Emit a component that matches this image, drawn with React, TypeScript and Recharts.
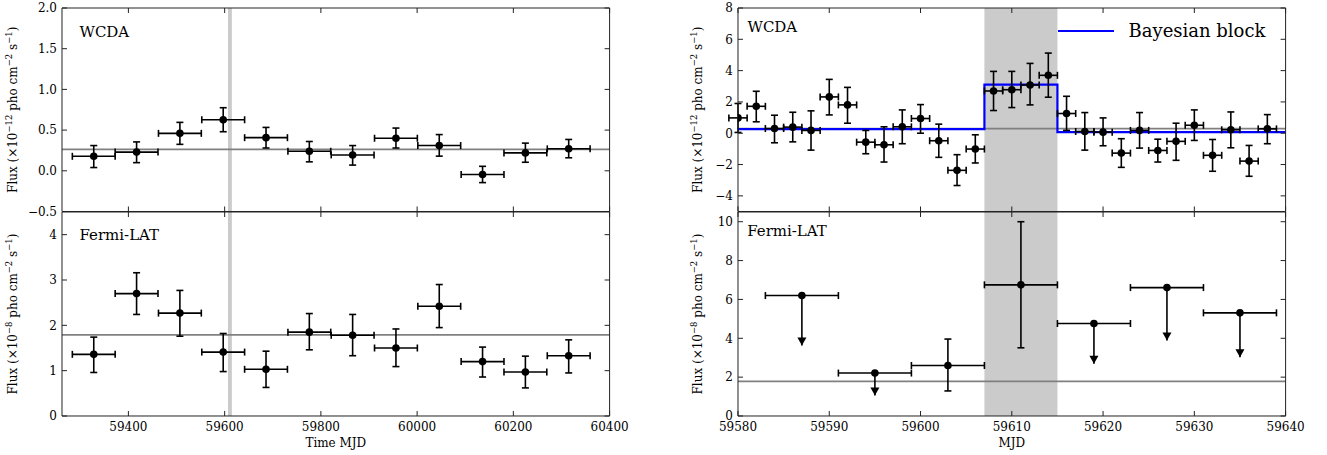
import React from "react";
import {
  ComposedChart,
  Scatter,
  ErrorBar,
  XAxis,
  YAxis,
  ReferenceArea,
  ReferenceLine,
  Line,
  Legend,
} from "recharts";

const FONT = '"DejaVu Serif", serif';
const FRAME = "#222";
const BAND = "#cbcbcb";
const HLINE = "#808080";
const BLUE = "#0000ff";
const TICK = 5;

// ---- left: long-term light curves (90 d bins) ----
const LONG_X = [59328, 59417, 59507, 59597, 59686, 59776, 59866, 59956, 60046, 60136, 60225, 60315];
const LONG_XERR = 44.5;

const LW_Y = [0.178, 0.23, 0.46, 0.627, 0.407, 0.24, 0.195, 0.4, 0.31, -0.046, 0.22, 0.27];
const LW_HI = [0.31, 0.355, 0.595, 0.775, 0.533, 0.36, 0.31, 0.525, 0.445, 0.055, 0.34, 0.385];
const LW_LO = [0.04, 0.1, 0.325, 0.48, 0.28, 0.11, 0.07, 0.28, 0.18, -0.145, 0.105, 0.16];
const LW_MEAN = 0.264;

const LF_Y = [1.36, 2.7, 2.27, 1.41, 1.03, 1.85, 1.78, 1.5, 2.42, 1.2, 0.97, 1.33];
const LF_HI = [1.74, 3.16, 2.77, 1.82, 1.43, 2.26, 2.24, 1.92, 2.9, 1.52, 1.32, 1.68];
const LF_LO = [0.96, 2.24, 1.76, 0.98, 0.63, 1.46, 1.33, 1.09, 1.95, 0.86, 0.62, 0.95];
const LF_MEAN = 1.79;

// ---- right: zoom around the flare (2 d WCDA bins, 8 d Fermi bins) ----
const RW_X = [
  59580, 59582, 59584, 59586, 59588, 59590, 59592, 59594, 59596, 59598,
  59600, 59602, 59604, 59606, 59608, 59610, 59612, 59614, 59616, 59618,
  59620, 59622, 59624, 59626, 59628, 59630, 59632, 59634, 59636, 59638,
];
const RW_XERR = 1;
const RW_Y = [
  0.98, 1.72, 0.3, 0.39, 0.18, 2.32, 1.81, -0.57, -0.74, 0.41,
  0.94, -0.48, -2.37, -1.01, 2.7, 2.78, 3.08, 3.7, 1.26, 0.11,
  0.07, -1.27, 0.18, -1.1, -0.52, 0.51, -1.41, 0.22, -1.78, 0.28,
];
const RW_HI = [
  1.9, 2.68, 1.15, 1.34, 1.43, 3.44, 2.93, 0.18, 0.41, 1.49,
  1.83, 0.58, -1.37, -0.1, 3.95, 3.95, 4.46, 5.12, 2.36, 1.32,
  0.98, -0.35, 1.32, -0.38, 0.64, 1.49, -0.4, 1.36, -0.78, 1.19,
];
const RW_LO = [
  0.05, 0.73, -0.61, -0.55, -1.08, 1.17, 0.64, -1.31, -1.84, -0.67,
  0.0, -1.54, -3.34, -1.9, 1.45, 1.64, 1.81, 2.3, 0.18, -1.08,
  -0.8, -2.18, -0.95, -1.84, -1.73, -0.46, -2.43, -0.93, -2.75, -0.67,
];
const RW_MEAN = 0.3;
const BB_EDGES = [59580, 59607, 59615, 59640];
const BB_LEVELS = [0.26, 3.1, 0.07, 0.07];

const RF_XERR = 4;
const RF_DET_X = [59603, 59611];
const RF_DET_Y = [2.6, 6.75];
const RF_DET_HI = [3.96, 10.0];
const RF_DET_LO = [1.29, 3.51];
const RF_UL_X = [59587, 59595, 59619, 59627, 59635];
const RF_UL_Y = [6.2, 2.21, 4.76, 6.61, 5.31];
const RF_UL_TIP = [3.63, 1.06, 2.69, 3.89, 3.03];
const RF_MEAN = 1.78;

const FLARE = [59607, 59615];

type Pt = { x: number; y: number; ex: number; ey: [number, number] };

const mkPts = (xs: number[], ys: number[], hi: number[], lo: number[], ex: number): Pt[] =>
  xs.map((x, i) => ({ x, y: ys[i], ex, ey: [ys[i] - lo[i], hi[i] - ys[i]] }));

const fmtMinus = (s: string) => s.replace("-", "\u2212");

const dot = (p: any) => <circle cx={p.cx} cy={p.cy} r={3.8} fill="#000" />;
const arrowHead = (p: any) => (
  <path d={`M${p.cx - 4.5},${p.cy - 8} L${p.cx + 4.5},${p.cy - 8} L${p.cx},${p.cy} Z`} fill="#000" />
);

const xTick = (dir: number, label: boolean) => (p: any) => (
  <g>
    <line x1={p.x} x2={p.x} y1={p.y} y2={p.y + dir * TICK} stroke={FRAME} strokeWidth={1} />
    {label && (
      <text x={p.x} y={p.y + 15} textAnchor="middle" fontSize={12} fontFamily={FONT} fill="#000">
        {p.payload.value}
      </text>
    )}
  </g>
);

const yTick = (dir: number, fmt?: (v: number) => string) => (p: any) => (
  <g>
    <line x1={p.x} x2={p.x + dir * TICK} y1={p.y} y2={p.y} stroke={FRAME} strokeWidth={1} />
    {fmt && (
      <text x={p.x - 5} y={p.y} dy="0.36em" textAnchor="end" fontSize={12} fontFamily={FONT} fill="#000">
        {fmt(p.payload.value)}
      </text>
    )}
  </g>
);

function FluxLabel({ exp }: { exp: string }) {
  return (
    <>
      <tspan>Flux (×10</tspan>
      <tspan dy={-5} fontSize={8.5}>{exp}</tspan>
      <tspan dy={5}> pho cm</tspan>
      <tspan dy={-5} fontSize={8.5}>−2</tspan>
      <tspan dy={5}> s</tspan>
      <tspan dy={-5} fontSize={8.5}>−1</tspan>
      <tspan dy={5}>)</tspan>
    </>
  );
}

type PanelProps = {
  left: number;
  top: number;
  w: number;
  h: number;
  xDomain: [number, number];
  xTicks: number[];
  yDomain: [number, number];
  yTicks: number[];
  yFmt: (v: number) => string;
  xLabels: boolean;
  xTitle?: string;
  exp: string;
  yTitleOff: number;
  name: string;
  nameDx: number;
  nameDy: number;
  pts: Pt[];
  uls?: Pt[];
  tips?: { x: number; y: number }[];
  hline: number;
  blocks?: { x: number; y: number }[];
};

function Panel(p: PanelProps) {
  const padL = 60, padT = 10, padB = 50, padR = 40;
  return (
    <div style={{ position: "absolute", left: p.left - padL, top: p.top - padT }}>
      <ComposedChart
        width={p.w + padL + padR}
        height={p.h + padT + padB}
        margin={{ top: 0, right: 0, bottom: 0, left: 0 }}
      >
        <XAxis
          dataKey="x"
          type="number"
          domain={p.xDomain}
          ticks={p.xTicks}
          allowDataOverflow
          interval={0}
          height={padB}
          tickSize={0}
          tickMargin={0}
          tickLine={false}
          axisLine={{ stroke: FRAME, strokeWidth: 1 }}
          tick={xTick(-1, p.xLabels)}
          label={{
            content: (lp: any) =>
              p.xTitle ? (
                <text
                  x={lp.viewBox.x + lp.viewBox.width / 2}
                  y={lp.viewBox.y + 31}
                  textAnchor="middle"
                  fontSize={12}
                  fontFamily={FONT}
                  fill="#000"
                >
                  {p.xTitle}
                </text>
              ) : null,
          }}
        />
        <XAxis
          xAxisId="top"
          orientation="top"
          dataKey="x"
          type="number"
          domain={p.xDomain}
          ticks={p.xTicks}
          allowDataOverflow
          interval={0}
          height={padT}
          tickSize={0}
          tickMargin={0}
          tickLine={false}
          axisLine={{ stroke: FRAME, strokeWidth: 1 }}
          tick={xTick(1, false)}
          label={{
            content: (lp: any) => (
              <text
                x={lp.viewBox.x + p.nameDx}
                y={lp.viewBox.y + lp.viewBox.height + p.nameDy}
                fontSize={15}
                fontFamily={FONT}
                fill="#000"
              >
                {p.name}
              </text>
            ),
          }}
        />
        <YAxis
          type="number"
          domain={p.yDomain}
          ticks={p.yTicks}
          allowDataOverflow
          interval={0}
          width={padL}
          tickSize={0}
          tickMargin={0}
          tickLine={false}
          axisLine={{ stroke: FRAME, strokeWidth: 1 }}
          tick={yTick(1, p.yFmt)}
          label={{
            content: (lp: any) => {
              const cx = lp.viewBox.x + lp.viewBox.width - p.yTitleOff;
              const cy = lp.viewBox.y + lp.viewBox.height / 2;
              return (
                <text
                  x={cx}
                  y={cy}
                  transform={`rotate(-90 ${cx} ${cy})`}
                  textAnchor="middle"
                  fontSize={12}
                  fontFamily={FONT}
                  fill="#000"
                >
                  <FluxLabel exp={p.exp} />
                </text>
              );
            },
          }}
        />
        <YAxis
          yAxisId="right"
          orientation="right"
          type="number"
          domain={p.yDomain}
          ticks={p.yTicks}
          allowDataOverflow
          interval={0}
          width={padR}
          tickSize={0}
          tickMargin={0}
          tickLine={false}
          axisLine={{ stroke: FRAME, strokeWidth: 1 }}
          tick={yTick(-1)}
        />
        <ReferenceArea x1={FLARE[0]} x2={FLARE[1]} fill={BAND} fillOpacity={1} stroke="none" />
        <ReferenceLine y={p.hline} stroke={HLINE} strokeWidth={1.8} />
        {p.blocks && (
          <Line
            data={p.blocks}
            dataKey="y"
            type="stepAfter"
            stroke={BLUE}
            strokeWidth={2.2}
            dot={false}
            name="Bayesian block"
            isAnimationActive={false}
          />
        )}
        {p.blocks && (
          <Legend
            layout="horizontal"
            verticalAlign="middle"
            align="center"
            wrapperStyle={{ top: 22, left: 380, width: "auto", height: "auto" }}
            content={() => (
              <div style={{ display: "flex", alignItems: "center", fontFamily: FONT }}>
                <svg width={56} height={4}>
                  <line x1={0} x2={56} y1={2} y2={2} stroke={BLUE} strokeWidth={2.2} />
                </svg>
                <span style={{ marginLeft: 15, fontSize: 18, lineHeight: "22px", color: "#000" }}>
                  Bayesian block
                </span>
              </div>
            )}
          />
        )}
        <Scatter data={p.pts} dataKey="y" shape={dot} isAnimationActive={false} legendType="none">
          <ErrorBar dataKey="ex" direction="x" width={3.5} stroke="#000" strokeWidth={1.6} isAnimationActive={false} />
          <ErrorBar dataKey="ey" direction="y" width={3.5} stroke="#000" strokeWidth={1.6} isAnimationActive={false} />
        </Scatter>
        {p.uls && (
          <Scatter data={p.uls} dataKey="y" shape={dot} isAnimationActive={false} legendType="none">
            <ErrorBar dataKey="ex" direction="x" width={3.5} stroke="#000" strokeWidth={1.6} isAnimationActive={false} />
            <ErrorBar dataKey="ey" direction="y" width={0} stroke="#000" strokeWidth={1.6} isAnimationActive={false} />
          </Scatter>
        )}
        {p.tips && (
          <Scatter data={p.tips} dataKey="y" shape={arrowHead} isAnimationActive={false} legendType="none" />
        )}
      </ComposedChart>
    </div>
  );
}

const LEFT_X: [number, number] = [59262, 60400];
const LEFT_TICKS = [59400, 59600, 59800, 60000, 60200, 60400];
const RIGHT_X: [number, number] = [59580, 59640];
const RIGHT_TICKS = [59580, 59590, 59600, 59610, 59620, 59630, 59640];

export default function App() {
  const PW = 547.6;
  const LL = 61.5;
  const RL = 737.5;
  const T1 = 8, H1 = 203.5;
  const T2 = 211.5, H2 = 204;

  const lw = mkPts(LONG_X, LW_Y, LW_HI, LW_LO, LONG_XERR);
  const lf = mkPts(LONG_X, LF_Y, LF_HI, LF_LO, LONG_XERR);
  const rw = mkPts(RW_X, RW_Y, RW_HI, RW_LO, RW_XERR);
  const rfDet = mkPts(RF_DET_X, RF_DET_Y, RF_DET_HI, RF_DET_LO, RF_XERR);
  const rfUl: Pt[] = RF_UL_X.map((x, i) => ({
    x,
    y: RF_UL_Y[i],
    ex: RF_XERR,
    ey: [RF_UL_Y[i] - RF_UL_TIP[i], 0],
  }));
  const rfTips = RF_UL_X.map((x, i) => ({ x, y: RF_UL_TIP[i] }));
  const blocks = BB_EDGES.map((x, i) => ({ x, y: BB_LEVELS[i] }));

  return (
    <div
      style={{
        position: "absolute",
        left: 0,
        top: 0,
        width: 1327,
        height: 455,
        background: "#fff",
        fontFamily: FONT,
      }}
    >
      <Panel
        left={LL} top={T1} w={PW} h={H1}
        xDomain={LEFT_X} xTicks={LEFT_TICKS}
        yDomain={[-0.5, 2.0]} yTicks={[-0.5, 0, 0.5, 1.0, 1.5, 2.0]}
        yFmt={(v) => fmtMinus(v.toFixed(1))}
        xLabels={false} exp="−12" yTitleOff={45}
        name="WCDA" nameDx={17.5} nameDy={29.5}
        pts={lw} hline={LW_MEAN}
      />
      <Panel
        left={LL} top={T2} w={PW} h={H2}
        xDomain={LEFT_X} xTicks={LEFT_TICKS}
        yDomain={[0, 4.5]} yTicks={[0, 1, 2, 3, 4]}
        yFmt={(v) => String(v)}
        xLabels xTitle="Time MJD" exp="−8" yTitleOff={45}
        name="Fermi-LAT" nameDx={17.5} nameDy={28}
        pts={lf} hline={LF_MEAN}
      />
      <Panel
        left={RL} top={T1} w={PW} h={H1}
        xDomain={RIGHT_X} xTicks={RIGHT_TICKS}
        yDomain={[-5, 8]} yTicks={[-4, -2, 0, 2, 4, 6, 8]}
        yFmt={(v) => fmtMinus(String(v))}
        xLabels={false} exp="−12" yTitleOff={36}
        name="WCDA" nameDx={9.5} nameDy={24}
        pts={rw} hline={RW_MEAN} blocks={blocks}
      />
      <Panel
        left={RL} top={T2} w={PW} h={H2}
        xDomain={RIGHT_X} xTicks={RIGHT_TICKS}
        yDomain={[0, 10.5]} yTicks={[0, 2, 4, 6, 8, 10]}
        yFmt={(v) => String(v)}
        xLabels xTitle="MJD" exp="−8" yTitleOff={36}
        name="Fermi-LAT" nameDx={9.2} nameDy={24}
        pts={rfDet} uls={rfUl} tips={rfTips} hline={RF_MEAN}
      />
    </div>
  );
}
